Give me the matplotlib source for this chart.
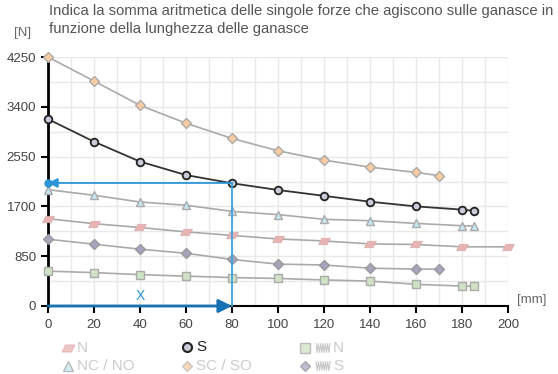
import numpy as np
import matplotlib.pyplot as plt
from matplotlib.lines import Line2D

plt.rcParams['font.family'] = ['Liberation Sans', 'DejaVu Sans']

# lunghezza ganasce [mm] e forze [N]
x_long = [0, 20, 40, 60, 80, 100, 120, 140, 160, 180, 185]
x_short = [0, 20, 40, 60, 80, 100, 120, 140, 160, 170]
x_n = [0, 20, 40, 60, 80, 100, 120, 140, 160, 180, 200]

sc_so = [4250, 3840, 3425, 3120, 2860, 2650, 2490, 2370, 2280, 2225]
s_vals = [3190, 2805, 2465, 2235, 2095, 1980, 1880, 1780, 1700, 1645, 1625]
nc_no = [1985, 1890, 1775, 1720, 1615, 1560, 1480, 1455, 1410, 1370, 1365]
n_vals = [1490, 1405, 1340, 1265, 1205, 1145, 1110, 1060, 1050, 1010, 1010]
spring_s = [1140, 1055, 970, 900, 795, 715, 700, 645, 630, 630]
spring_n = [595, 570, 535, 510, 485, 470, 445, 425, 370, 340, 340]

y_ticks = [0, 850, 1700, 2550, 3400, 4250]
x_ticks = [0, 20, 40, 60, 80, 100, 120, 140, 160, 180, 200]

# esempio di lettura
x_read = 80
y_read = 2100

para = [(-1.0, -0.55), (0.45, -0.55), (1.0, 0.55), (-0.45, 0.55), (-1.0, -0.55)]

fig = plt.figure(figsize=(5.58, 3.74), dpi=100)
ax = fig.add_axes([48/558, 68/374, 460/558, 249/374])

ax.set_xlim(0, 200)
ax.set_ylim(0, 4250)
ax.set_xticks(x_ticks)
ax.set_yticks(y_ticks)
ax.set_xticks(np.arange(0, 201, 10), minor=True)
ax.set_yticks(np.arange(0, 4251, 425), minor=True)
ax.grid(True, which='both', color='#e9e9e9', linewidth=1)
ax.set_axisbelow(True)
ax.tick_params(which='minor', length=0)
ax.tick_params(which='major', direction='out', length=5, width=1.5,
               colors='black', labelcolor='#444444', labelsize=9.5)
ax.tick_params(axis='x', pad=4)
for s in ['top', 'right']:
    ax.spines[s].set_visible(False)
ax.spines['left'].set_linewidth(2)
ax.spines['bottom'].set_linewidth(1.5)

gray = '#aaaaaa'
kw = dict(clip_on=False, zorder=3)
ax.plot(x_short, sc_so, color=gray, lw=1.2, marker='D', ms=5,
        mfc='#f8cba2', mec='#aaaaaa', mew=1, **kw)
ax.plot(x_n, n_vals, color=gray, lw=1.2, marker=para, ms=8.5,
        mfc='#e8b3b3', mec='#dcaaaa', mew=0.5, **kw)
ax.plot(x_long, nc_no, color=gray, lw=1.2, marker='^', ms=6,
        mfc='#c4e6f0', mec='#aaaaaa', mew=1, **kw)
ax.plot(x_short, spring_s, color=gray, lw=1.2, marker='D', ms=5.5,
        mfc='#a8a4be', mec='#999999', mew=1, **kw)
ax.plot(x_long, spring_n, color=gray, lw=1.2, marker='s', ms=5.5,
        mfc='#cfe2c3', mec='#aaaaaa', mew=1, **kw)
ax.plot(x_long, s_vals, color='#333333', lw=1.3, marker='o', ms=5.5,
        mfc='#c9cbd9', mec='#222222', mew=1.3, clip_on=False, zorder=4)

# frecce di lettura
ax.plot([x_read, x_read], [0, y_read], color='#3ea3de', lw=1.3, zorder=5, clip_on=False)
ax.annotate('', xy=(0, y_read), xytext=(x_read, y_read),
            arrowprops=dict(arrowstyle='-|>', color='#2b95d6', lw=1.3,
                            mutation_scale=14, shrinkA=0, shrinkB=0), zorder=6)
ax.plot([0], [y_read], 'o', color='#2b95d6', ms=5, zorder=6, clip_on=False)
ax.annotate('', xy=(x_read, 0), xytext=(0, 0),
            arrowprops=dict(arrowstyle='-|>', color='#1672b2', lw=2,
                            mutation_scale=20, shrinkA=0, shrinkB=0), zorder=6,
            annotation_clip=False)
ax.text(40, 170, 'X', color='#2b95d6', fontsize=10, ha='center', va='center')

fig.text(49/558, 1 - 20/374, 'Indica la somma aritmetica delle singole forze che agiscono sulle ganasce in\nfunzione della lunghezza delle ganasce',
         color='#555555', fontsize=10.7, ha='left', va='center', linespacing=1.3)
fig.text(23/558, 1 - 33/374, '[N]', color='#666666', fontsize=9.5, ha='center', va='center')
fig.text(532/558, 1 - 300/374, '[mm]', color='#666666', fontsize=9.5, ha='center', va='center')

# legenda
def fx(px):
    return px / 558

def fy(py):
    return 1 - py / 374

faded = '#cccccc'
entries = [
    (68, 348, para, 9, '#e8b3b3', '#e8b3b3', 'N', False, False),
    (68, 366, '^', 6.5, '#c4e6f0', '#aaaaaa', 'NC / NO', False, False),
    (187, 347, 'o', 6.5, '#c9cbd9', '#222222', 'S', True, False),
    (187, 366, 'D', 5, '#f8cba2', '#bbbbbb', 'SC / SO', False, False),
    (305, 348, 's', 6.5, '#cfe2c3', '#aaaaaa', 'N', False, True),
    (305, 366, 'D', 5.5, '#a8a4be', '#999999', 'S', False, True),
]
for px, py, mk, ms, fc, ec, label, active, spring in entries:
    alpha = 1 if active else 0.75
    fig.add_artist(Line2D([fx(px)], [fy(py)], marker=mk, ms=ms, mfc=fc, mec=ec,
                          mew=1.5 if active else 1, alpha=alpha, transform=fig.transFigure))
    tx = px + 9
    if spring:
        zx = np.linspace(316, 330, 13)
        zy = np.where(np.arange(13) % 2 == 0, py - 4.5, py + 4.5)
        fig.add_artist(Line2D(fx(zx), fy(zy), color='#c4c4c4', lw=0.7,
                              transform=fig.transFigure))
        tx = 333
    fig.text(fx(tx), fy(py), label, color='#222222' if active else faded,
             fontsize=11, ha='left', va='center')

fig.savefig('out.png', dpi=100)
